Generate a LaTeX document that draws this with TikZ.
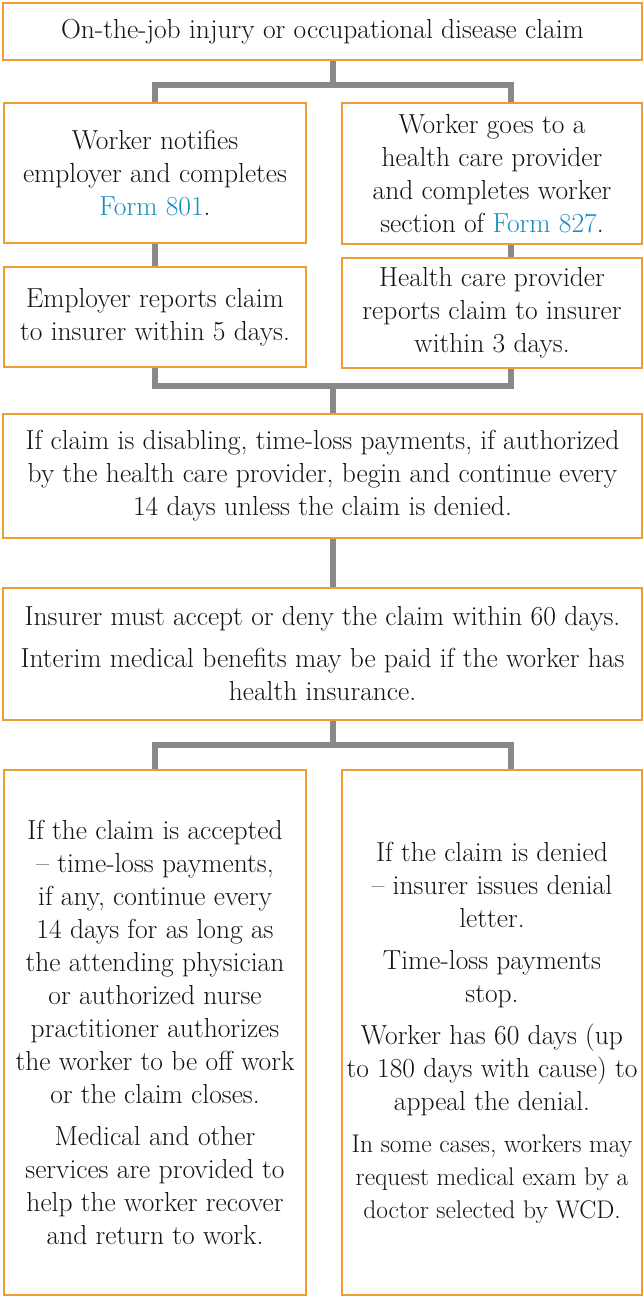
\documentclass[tikz,border=0pt]{standalone}
\usepackage{fontspec}
\usepackage{xcolor}
\usetikzlibrary{positioning}

\definecolor{boxorange}{RGB}{240,156,52}
\definecolor{linkgray}{RGB}{137,137,137}
\definecolor{formblue}{RGB}{22,142,192}
\definecolor{inkblack}{RGB}{20,18,18}

\newcommand{\formref}[1]{\textcolor{formblue}{Form #1}}

\begin{document}
\begin{tikzpicture}[x=1pt,y=-1pt,
  stepbox/.style={
   draw=boxorange,
   line width=1.6pt,
   fill=white,
   inner sep=0pt,
   align=center,
   text=inkblack,
   font=\fontsize{27.5}{33}\selectfont
  },
  widebox/.style={
    stepbox,
    minimum width=639pt
  },
  halfbox/.style={
    stepbox,
    minimum width=302pt
  },
  conn/.style={
    draw=linkgray,
    line width=6pt,
    line join=miter
  }]
  \useasboundingbox (0,0) rectangle (644,1297);
  % columns of the connectors
  \coordinate (colL) at (155,0);
  \coordinate (colM) at (333,0);
  \coordinate (colR) at (511,0);

  \node[widebox,minimum height=57pt] at (322.5,31.5)
	  (claim) {On-the-job injury or occupational disease claim};
  \node[halfbox,minimum height=140pt] at (155,173)
	  (notify) {Worker notifies\\ employer and completes\\ \formref{801}.};
  \node[halfbox,minimum width=300pt,minimum height=141pt] at (492,173.5)
	  (visit) {Worker goes to a\\ health care provider\\ and completes worker\\ section of \formref{827}.};
  \node[halfbox,minimum height=100pt] at (155,317)
	  (employer) {Employer reports claim\\ to insurer within 5 days.};
  \node[halfbox,minimum width=300pt,minimum height=110pt] at (492,313)
	  (provider) {Health care provider\\ reports claim to insurer\\ within 3 days.};
  \node[widebox,minimum height=124pt] at (322.5,476)
	  (timeloss) {If claim is disabling, time-loss payments, if authorized\\
	  by the health care provider, begin and continue every\\
	  14 days unless the claim is denied.};
  \node[widebox,minimum height=132pt] at (322.5,654)
	  (decision) {Insurer must accept or deny the claim within 60 days.\\[9pt]
	  Interim medical benefits may be paid if the worker has\\
	  health insurance.};
  \node[halfbox,minimum height=525pt] at (155,1032.5)
	  (accepted) {If the claim is accepted\\ -- time-loss payments,\\
	  if any, continue every\\ 14 days for as long as\\
	  the attending physician\\ or authorized nurse\\
	  practitioner authorizes\\ the worker to be off work\\
	  or the claim closes.\\[9pt]
	  Medical and other\\ services are provided to\\
	  help the worker recover\\ and return to work.};
  \node[halfbox,minimum width=300pt,minimum height=525pt] at (492,1032.5)
	  (denied) {If the claim is denied\\ -- insurer issues denial\\ letter.\\[9pt]
	  Time-loss payments\\ stop.\\[9pt]
	  Worker has 60 days (up\\ to 180 days with cause) to\\ appeal the denial.\\[9pt]
	  {\fontsize{25.5}{33}\selectfont In some cases, workers may}\\
	  {\fontsize{25.5}{33}\selectfont request medical exam by a}\\
	  {\fontsize{25.5}{33}\selectfont doctor selected by WCD.}};

	% first split
	\coordinate (s1) at (colM |- 0,85);
	\draw[conn] (claim.south -| colM) -- (s1);
	\draw[conn] (notify.north -| colL) |- (s1) -| (visit.north -| colR);

	\draw[conn] (notify.south -| colL) -- (employer.north -| colL);
	\draw[conn] (visit.south -| colR) -- (provider.north -| colR);

	% merge
	\coordinate (s2) at (colM |- 0,386);
	\draw[conn] (employer.south -| colL) |- (s2) -| (provider.south -| colR);
	\draw[conn] (s2) -- (timeloss.north -| colM);

	\draw[conn] (timeloss.south -| colM) -- (decision.north -| colM);

	% second split
	\coordinate (s3) at (colM |- 0,745);
	\draw[conn] (decision.south -| colM) -- (s3);
	\draw[conn] (accepted.north -| colL) |- (s3) -| (denied.north -| colR);
\end{tikzpicture}
\end{document}
